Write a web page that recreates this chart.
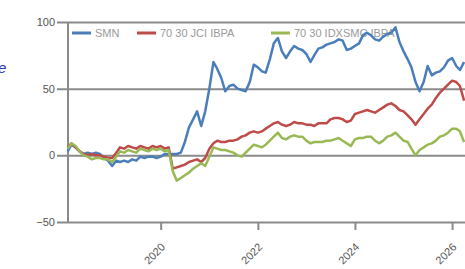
<!DOCTYPE html>
<html>
<head>
<meta charset="utf-8">
<script src="https://cdn.jsdelivr.net/npm/d3@7"></script>
<style>
  body { margin: 0; background: #fff; }
  svg { display: block; font-family: 'Liberation Sans', Arial, sans-serif; }
</style>
</head>
<body>
<div id="chart"></div>
<script>
// monthly points, Feb 2018 .. Apr 2026
const months = d3.timeMonth.range(new Date(2018, 1, 1), new Date(2026, 4, 1))

const seriesNames = ['SMN', '70 30 JCI IBPA', '70 30 IDXSMC IBPA']

const smn = [3, 8, 6, 3, 1, 2, 1, 2, 1, -2, -4, -8, -4, -5, -4, -5, -3, -4, -1, -2,
  -1, -1, -2, -1, 1, 1, 1, 1, 2, 10, 21, 27, 33, 22, 33, 50, 70, 65, 58, 48,
  52, 53, 50, 49, 48, 55, 68, 66, 63, 62, 72, 84, 88, 78, 73, 78, 82, 80, 79, 76,
  70, 75, 80, 81, 83, 84, 85, 87, 86, 79, 80, 82, 84, 90, 92, 90, 87, 86, 89, 91,
  92, 96, 85, 78, 72, 66, 55, 48, 55, 67, 60, 62, 63, 66, 71, 73, 67, 64, 70]

const jci = [6, 9, 6, 3, 1, 0, 1, 0, 0, -1, -2, -2, 2, 6, 5, 7, 6, 5, 7, 6,
  5, 7, 6, 7, 5, 6, -10, -9, -8, -7, -5, -4, -3, -5, -2, 5, 9, 11, 10, 10,
  11, 11, 12, 14, 15, 17, 18, 17, 18, 20, 22, 24, 25, 23, 22, 23, 25, 24, 24, 23,
  23, 22, 24, 24, 24, 27, 28, 28, 27, 25, 26, 31, 32, 33, 34, 33, 32, 34, 36, 38,
  39, 37, 34, 33, 30, 27, 23, 27, 31, 35, 38, 43, 47, 50, 53, 56, 55, 52, 41]

const idxsmc = [5, 9, 7, 3, 0, -1, -3, -2, -2, -3, -3, -5, -1, 3, 2, 4, 3, 2, 5, 4,
  3, 5, 4, 5, 3, 4, -12, -19, -17, -15, -13, -10, -8, -6, -8, -1, 6, 5, 4, 4,
  3, 2, 0, -1, 2, 5, 8, 7, 6, 8, 11, 14, 17, 13, 12, 14, 15, 14, 14, 11,
  9, 10, 10, 10, 11, 11, 12, 13, 11, 9, 7, 12, 13, 13, 14, 14, 11, 9, 11, 14,
  15, 17, 14, 11, 10, 5, 0, 4, 6, 8, 9, 11, 14, 15, 17, 20, 20, 18, 10]

const yTicks = [-50, 0, 50, 100]
const xTicks = [2020, 2022, 2024, 2026]

const colors = ['#4a7ebb', '#be4b48', '#98b954']

const width = 465
const height = 269
const margin = { top: 22, left: 68, bottom: 47 }

const svg = d3
  .select('#chart')
  .append('svg')
  .attr('width', width)
  .attr('height', height)

const xPositionScale = d3
  .scaleTime()
  .domain([new Date(2018, 1, 3), new Date(2026, 3, 8)])
  .range([margin.left, width])

const yPositionScale = d3
  .scaleLinear()
  .domain([-50, 100])
  .range([height - margin.bottom, margin.top])

// cropped text from the page next to the chart
svg
  .append('text')
  .attr('x', -2)
  .attr('y', 73)
  .attr('fill', '#2b35b5')
  .attr('font-style', 'italic')
  .attr('font-size', 15)
  .text('e')

// horizontal grid lines with the y ticks
const yAxis = d3
  .axisLeft(yPositionScale)
  .tickValues(yTicks)
  .tickSize(-(width - margin.left))
  .tickPadding(13)
  .tickFormat(d3.format('d'))
svg
  .append('g')
  .attr('class', 'axis y-axis')
  .attr('transform', 'translate(' + margin.left + ',0)')
  .call(yAxis)
  .call(g => g.select('.domain').remove())
  .call(g => g.selectAll('.tick line')
    .attr('x1', -11)
    .attr('stroke', '#8a8a8a')
    .attr('stroke-width', 2))
  .call(g => g.selectAll('.tick text')
    .attr('fill', '#555')
    .attr('font-size', 11))

// y axis line
svg
  .append('line')
  .attr('x1', margin.left)
  .attr('x2', margin.left)
  .attr('y1', yPositionScale(100))
  .attr('y2', yPositionScale(-50))
  .attr('stroke', '#8a8a8a')
  .attr('stroke-width', 2)

const xAxis = d3
  .axisBottom(xPositionScale)
  .tickValues(xTicks.map(y => new Date(y, 0, 1)))
  .tickSize(8)
  .tickFormat(d3.timeFormat('%Y'))
svg
  .append('g')
  .attr('class', 'axis x-axis')
  .attr('transform', 'translate(0,' + yPositionScale(-50) + ')')
  .call(xAxis)
  .call(g => g.select('.domain').remove())
  .call(g => g.selectAll('.tick line')
    .attr('stroke', '#8a8a8a')
    .attr('stroke-width', 2))
  .call(g => g.selectAll('.tick text')
    .attr('fill', '#555')
    .attr('font-size', 11)
    .attr('text-anchor', 'end')
    .attr('dy', 0)
    .attr('transform', 'translate(-3,18) rotate(-45)'))

// legend
const legendX = [72, 137, 271]
const legend = svg
  .selectAll('.legend')
  .data(seriesNames)
  .enter()
  .append('g')
  .attr('class', 'legend')
  .attr('transform', (d, i) => 'translate(' + legendX[i] + ',33)')
legend
  .append('line')
  .attr('x1', 0)
  .attr('x2', 19)
  .attr('stroke', (d, i) => colors[i])
  .attr('stroke-width', 3)
legend
  .append('text')
  .attr('x', 23)
  .attr('y', 4)
  .attr('fill', '#999')
  .attr('font-size', 11)
  .text(d => d)

const line = d3
  .line()
  .x((d, i) => xPositionScale(months[i]))
  .y(d => yPositionScale(d))

svg
  .selectAll('.series')
  .data([smn, jci, idxsmc])
  .enter()
  .append('path')
  .attr('class', 'series')
  .attr('d', line)
  .attr('fill', 'none')
  .attr('stroke', (d, i) => colors[i])
  .attr('stroke-width', 2.5)
  .attr('stroke-linejoin', 'round')
</script>
</body>
</html>
